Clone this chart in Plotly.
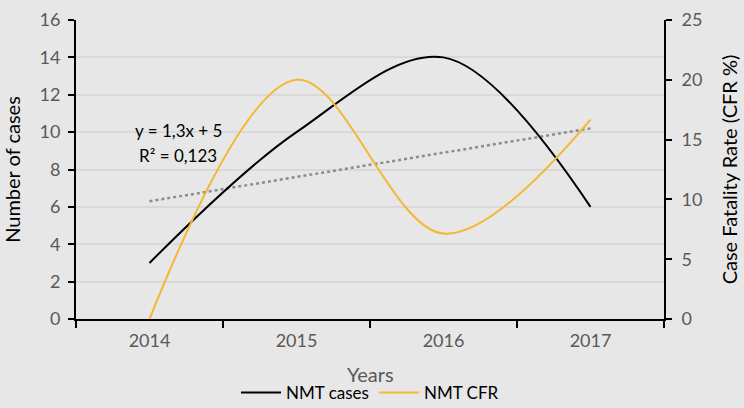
import plotly.graph_objects as go

years = ["2014", "2015", "2016", "2017"]
nmt_cases = [3, 10, 14, 6]
nmt_cfr = [0, 20, 7.14, 16.67]
trend_slope = 1.3
trend_intercept = 5
trend_y = [trend_slope * (i + 1) + trend_intercept for i in range(len(years))]

FONT = "Lato"
TICK_COLOR = "#595959"
BG = "#e7e7e7"

fig = go.Figure()
fig.add_trace(go.Scatter(x=years, y=trend_y, mode="lines", showlegend=False,
                         line=dict(color="#8c8c8c", width=2.5, dash="dot"),
                         hoverinfo="skip"))
fig.add_trace(go.Scatter(x=years, y=nmt_cases, mode="lines", name="NMT cases",
                         line=dict(color="#000000", width=2, shape="spline", smoothing=1)))
fig.add_trace(go.Scatter(x=years, y=nmt_cfr, mode="lines", name="NMT CFR", yaxis="y2",
                         line=dict(color="#f5b731", width=2, shape="spline", smoothing=1)))

fig.add_annotation(x=0.195, y=10.1, xref="x", yref="y", showarrow=False,
                   text="y = 1,3x + 5", font=dict(family=FONT, size=17, color="#000000"))
fig.add_annotation(x=0.195, y=8.73, xref="x", yref="y", showarrow=False,
                   text="R² = 0,123", font=dict(family=FONT, size=17, color="#000000"))
# x-axis title
fig.add_annotation(x=0.5, y=-0.184, xref="paper", yref="paper", showarrow=False,
                   yanchor="middle", text="Years",
                   font=dict(family=FONT, size=20, color=TICK_COLOR))

fig.update_layout(
    width=744, height=408,
    margin=dict(l=76, r=80, t=20, b=89),
    paper_bgcolor=BG, plot_bgcolor=BG,
    font=dict(family=FONT, size=15, color=TICK_COLOR),
    xaxis=dict(type="category", range=[-0.5, 3.5], showgrid=False, automargin=False,
               tickson="boundaries", ticks="outside", ticklen=7, tickwidth=2, tickcolor="#000",
               showline=True, linecolor="#000", linewidth=2, ticklabelstandoff=4,
               tickfont=dict(family=FONT, size=18, color=TICK_COLOR)),
    yaxis=dict(range=[0, 16], dtick=2, showgrid=True, gridcolor="#d9d9d9", gridwidth=1.5,
               showline=True, linecolor="#000", linewidth=2, zeroline=False, automargin=False,
               ticks="outside", ticklen=6, tickwidth=2, tickcolor="#000", ticklabelstandoff=4,
               tickfont=dict(family=FONT, size=18, color=TICK_COLOR),
               title=dict(text="Number of cases", font=dict(family=FONT, size=20, color="#000"), standoff=14)),
    yaxis2=dict(range=[0, 25], dtick=5, overlaying="y", side="right", showgrid=False,
                showline=True, linecolor="#000", linewidth=2, zeroline=False, automargin=False,
                ticks="outside", ticklen=6, tickwidth=2, tickcolor="#000", ticklabelstandoff=6,
                tickfont=dict(family=FONT, size=18, color=TICK_COLOR),
                title=dict(text="Case Fatality Rate (CFR %)", font=dict(family=FONT, size=20, color="#000"), standoff=22)),
    legend=dict(orientation="h", x=0.5, xanchor="center", yref="container", y=0.037, yanchor="middle",
                font=dict(family=FONT, size=17, color="#000"), bgcolor="rgba(0,0,0,0)",
                itemwidth=40, tracegroupgap=0),
    showlegend=True,
)

fig.write_html("out.html")
